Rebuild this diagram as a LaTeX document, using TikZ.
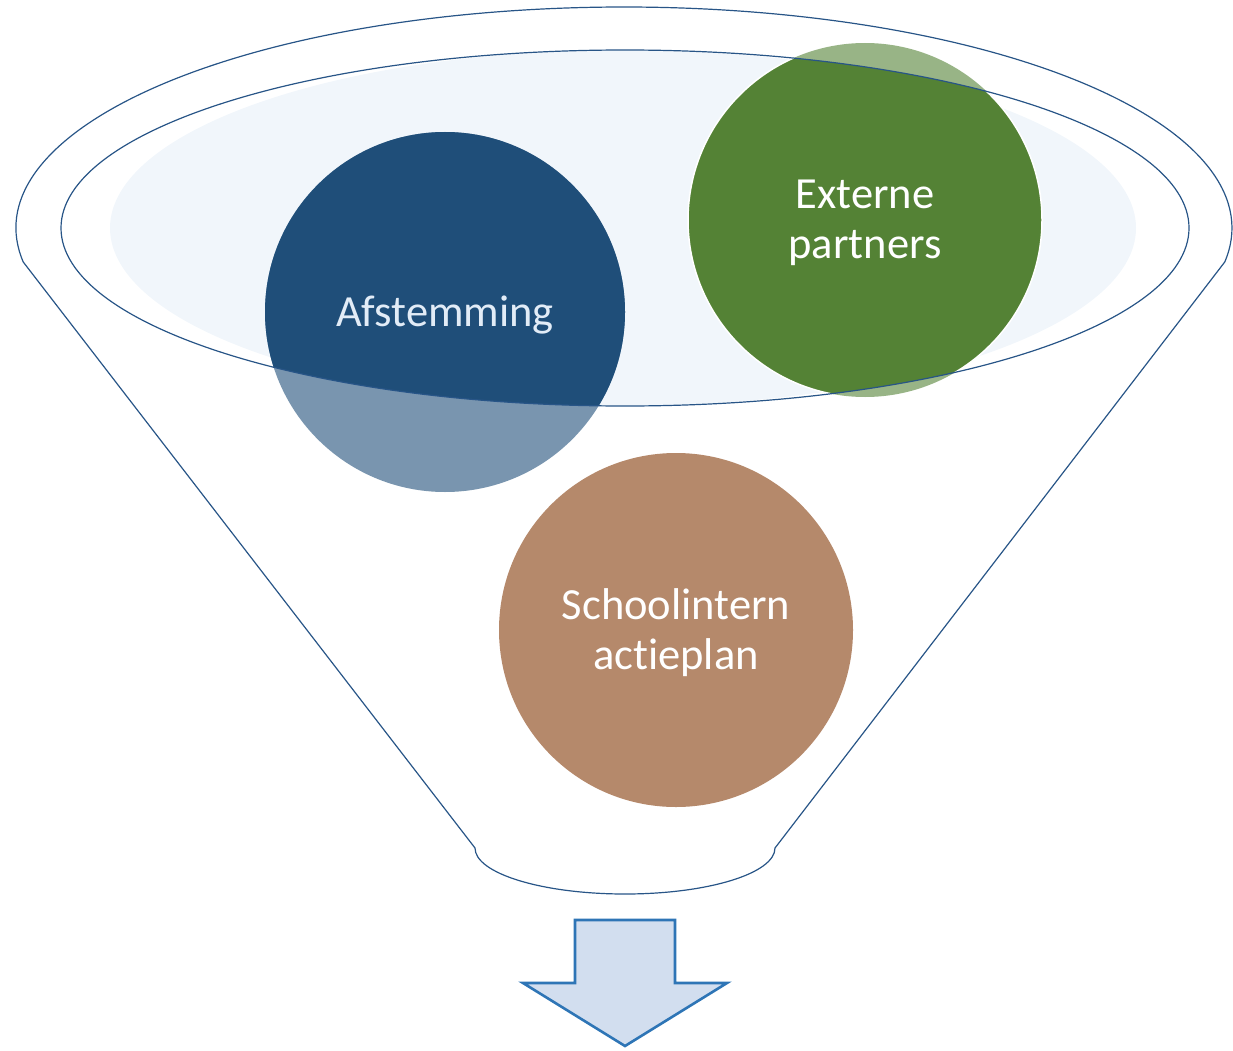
\documentclass[tikz,border=0pt]{standalone}
\usepackage{fontspec}
\setmainfont{Carlito}[Ligatures={NoCommon}]
\definecolor{funnelline}{RGB}{40,85,135}
\definecolor{lightfill}{HTML}{F1F6FB}
\definecolor{cblue}{HTML}{1F4E79}
\definecolor{cgreen}{HTML}{548235}
\definecolor{cbrown}{HTML}{B5896B}
\definecolor{arrowfill}{HTML}{D2DEEF}
\definecolor{arrowline}{HTML}{2E75B6}
\definecolor{paletext}{HTML}{E2ECF7}
\tikzset{
  outline/.style={draw=funnelline, line width=1.2pt},
  label/.style={align=center, font=\fontsize{44.5}{50}\selectfont, text=white, inner sep=0pt},
}
\begin{document}
\begin{tikzpicture}[x=1pt,y=-1pt]
\useasboundingbox (0,0) rectangle (1233,1051);
% light inner fill
\fill[lightfill] (623,228) ellipse [x radius=513pt, y radius=178pt];
% translucent circles
\fill[cblue, opacity=0.6] (445,312) circle [radius=180pt];
\fill[cgreen, opacity=0.6] (865,220) circle [radius=177pt];
% opaque parts inside funnel mouth
\begin{scope}
  \clip (625,228) ellipse [x radius=564pt, y radius=178pt];
  \fill[cblue] (445,312) circle [radius=180pt];
  \fill[cgreen, draw=white, line width=1.5pt] (865,220) circle [radius=177pt];
\end{scope}
\fill[cbrown] (676,630) circle [radius=177pt];
% inner ellipse outline
\draw[outline] (625,228) ellipse [x radius=564pt, y radius=178pt];
% outer funnel
\draw[outline] (475,848) -- (23.24,262)
  arc[start angle=188.85, end angle=-8.85, x radius=608pt, y radius=221pt]
  -- (775,848)
  arc[start angle=0, end angle=-180, x radius=150pt, y radius=46pt] -- cycle;
% arrow
\draw[draw=arrowline, fill=arrowfill, line width=2.6pt, line join=miter]
  (575,920) -- (675,920) -- (675,983) -- (727,983) -- (625,1046) -- (523,983) -- (575,983) -- cycle;
% labels
\node[label, text=paletext] (afst) at (445,315) {Afstemming};
\node[label] (ext) at (865,223) {Externe\\partners};
\node[label] (school) at (676,633) {Schoolintern\\act\kern0pt ieplan};
\end{tikzpicture}
\end{document}
